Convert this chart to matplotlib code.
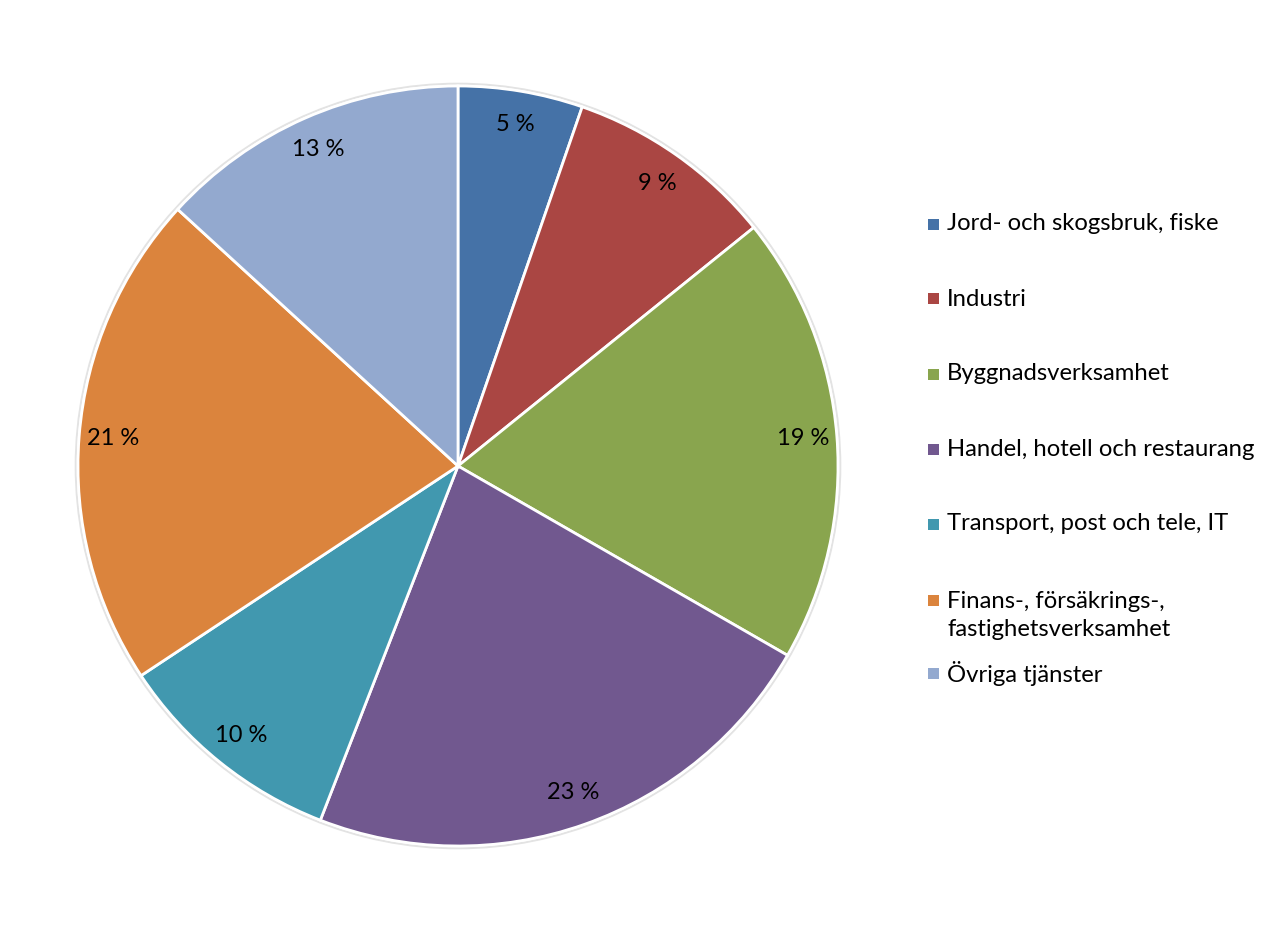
import matplotlib
matplotlib.use("Agg")
import matplotlib.pyplot as plt
from matplotlib.patches import Circle, Rectangle

categories = ["Jord- och skogsbruk, fiske", "Industri", "Byggnadsverksamhet",
              "Handel, hotell och restaurang", "Transport, post och tele, IT",
              "Finans-, försäkrings-,\nfastighetsverksamhet", "Övriga tjänster"]
values = [5.3, 8.9, 19.1, 22.6, 9.8, 21.1, 13.2]
colors = ["#4572A7", "#AA4643", "#89A54E", "#71588F", "#4198AF", "#DB843D", "#93A9CF"]

W, H = 1283, 930
fig = plt.figure(figsize=(W / 100, H / 100), dpi=100)
plt.rcParams['font.family'] = ['Lato', 'DejaVu Sans']

cx, cy, r = 458, 466, 380
ax = fig.add_axes([(cx - r * 1.02) / W, (H - cy - r * 1.02) / H, 2 * r * 1.02 / W, 2 * r * 1.02 / H])
ax.add_patch(Circle((0, 0), 1.006, facecolor="none", edgecolor="#e3e3e3", lw=1.5, zorder=0))
wedges, texts, autotexts = ax.pie(
    values, colors=colors, startangle=90, counterclock=False,
    autopct=lambda p: f"{p:.0f} %", pctdistance=0.91,
    wedgeprops=dict(edgecolor="white", linewidth=2.0),
    textprops=dict(fontsize=17, color="black"))
ax.set_xlim(-1.02, 1.02)
ax.set_ylim(-1.02, 1.02)
ax.set_aspect("equal")
ax.axis("off")

# legend
ys = [224, 299, 374, 449, 524, 600, 673]
for name, col, y in zip(categories, colors, ys):
    fig.patches.append(Rectangle((928 / W, (H - y - 5.5) / H), 11 / W, 11 / H,
                                 transform=fig.transFigure, facecolor=col, edgecolor="none"))
    ty = y + 15.5 if "\n" in name else y
    fig.text(947 / W, (H - ty) / H, name, fontsize=17.2, va="center",
             ha="left", color="black", linespacing=1.38,
             transform=fig.transFigure)

fig.savefig("out.png", dpi=100, facecolor="white")
